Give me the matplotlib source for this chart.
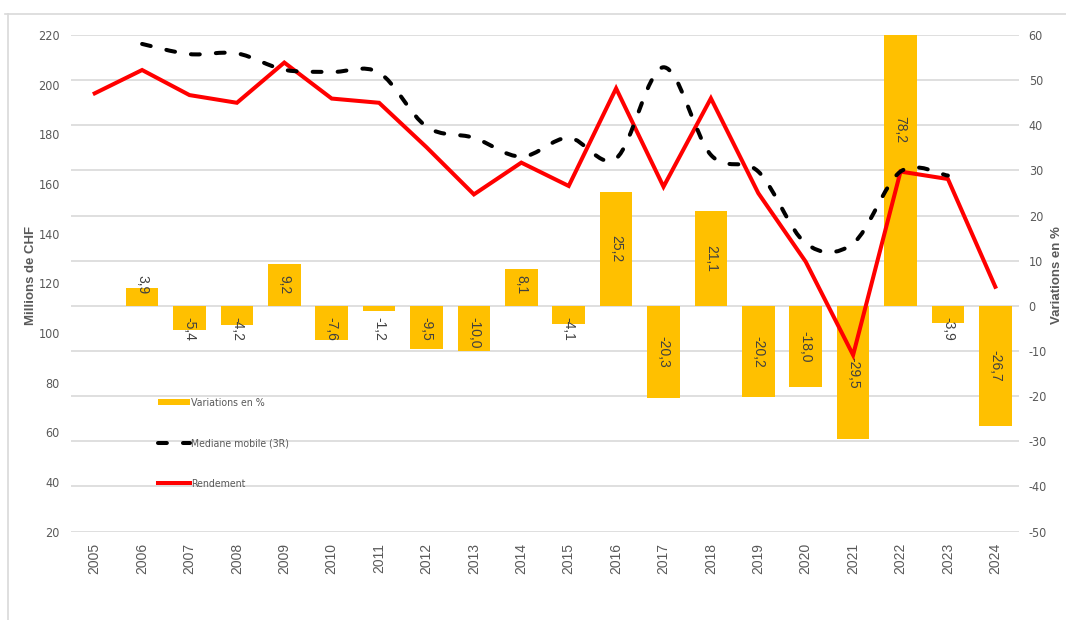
import matplotlib

matplotlib.use("Agg")
import matplotlib.pyplot as plt
from matplotlib import font_manager
from matplotlib.font_manager import FontProperties
from matplotlib.lines import Line2D
from matplotlib.patches import Patch, PathPatch
from matplotlib.path import Path

plt.rcParams["axes.unicode_minus"] = False

years = [str(y) for y in range(2005, 2025)]

# Rendement (Millions de CHF), left axis
rendement = [196.5, 205.9, 195.8, 192.7, 208.9, 194.4, 192.7, 174.8, 155.8, 168.6,
             159.2, 198.5, 158.9, 194.5, 156.3, 128.7, 91.1, 165.0, 162.0, 118.6]

# Mediane mobile (3R), left axis, starts in 2006
mediane = [None, 216.4, 212.3, 212.6, 206.0, 205.1, 204.8, 183.1, 178.6, 171.0,
           178.6, 170.3, 207.0, 171.7, 165.0, 136.1, 136.1, 165.0, 163.4, None]

# Variations en % (right axis), none for 2005
variations = [None, 3.9, -5.4, -4.2, 9.2, -7.6, -1.2, -9.5, -10.0, 8.1,
              -4.1, 25.2, -20.3, 21.1, -20.2, -18.0, -29.5, 78.2, -3.9, -26.7]

GREY = "#595959"
GRID = "#D9D9D9"
REGULAR = ["Liberation Sans", "DejaVu Sans"]


def narrow_font(size):
    # look for a condensed face installed on the machine, else plain Liberation Sans
    prefs = ["LiberationSansNarrow-Regular", "ArialNarrow", "DejaVuSansCondensed.ttf",
             "Condensed-Regular", "Narrow-Regular"]
    files = [f.fname for f in font_manager.fontManager.ttflist]
    for p in prefs:
        for fn in files:
            if p in fn and "Bold" not in fn and "Italic" not in fn and "Oblique" not in fn:
                return FontProperties(fname=fn, size=size)
    return FontProperties(family="Liberation Sans", size=size * 0.92)


def smooth_path(xs, ys):
    """Catmull-Rom style bezier through the points (Excel 'smoothed line')."""
    verts = [(xs[0], ys[0])]
    codes = [Path.MOVETO]
    n = len(xs)
    for i in range(n - 1):
        x0, y0 = (xs[i - 1], ys[i - 1]) if i > 0 else (xs[i], ys[i])
        x1, y1 = xs[i], ys[i]
        x2, y2 = xs[i + 1], ys[i + 1]
        x3, y3 = (xs[i + 2], ys[i + 2]) if i + 2 < n else (x2, y2)
        c1 = (x1 + (x2 - x0) / 6, y1 + (y2 - y0) / 6)
        c2 = (x2 - (x3 - x1) / 6, y2 - (y3 - y1) / 6)
        verts += [c1, c2, (x2, y2)]
        codes += [Path.CURVE4] * 3
    return Path(verts, codes)


fig = plt.figure(figsize=(10.66, 6.2), dpi=100)
ax2 = fig.add_axes([71 / 1066, 88.4 / 620, 948 / 1066, 496.6 / 620])
ax = ax2.twinx()
ax.set_zorder(ax2.get_zorder() + 1)
ax.patch.set_visible(False)

x = list(range(len(years)))

# bars on the right axis, in the back
bx = [i for i, v in zip(x, variations) if v is not None]
bv = [v for v in variations if v is not None]
ax2.bar(bx, bv, width=0.69, color="#FFC000", zorder=2)
ax2.set_ylim(-50, 60)
ax2.set_yticks(range(-50, 61, 10))
ax2.yaxis.tick_right()
ax2.grid(axis="y", color=GRID, lw=1.2, zorder=0)
ax2.set_axisbelow(True)

for xi, v in zip(bx, bv):
    lab = f"{v:.1f}".replace(".", ",")
    if abs(v) < 12:
        yy, va = (2.5, "bottom") if v > 0 else (-2.5, "top")
    else:
        yy, va = v / 2, "center"
    ax2.text(xi, yy, lab, rotation=270, ha="center", va=va,
             fontsize=10, color="#404040", family=REGULAR, zorder=3)

# lines on the left axis, in front
ax.plot(x, rendement, color="#FF0000", lw=2.9, solid_joinstyle="miter", zorder=4)
mx = [i for i, v in zip(x, mediane) if v is not None]
mv = [v for v in mediane if v is not None]
ax.add_patch(PathPatch(smooth_path(mx, mv), fill=False, edgecolor="black", lw=2.9,
                       linestyle=(0, (2.2, 4.0)), capstyle="round", zorder=5))
ax.set_ylim(20, 220)
ax.set_yticks(range(20, 221, 20))
ax.yaxis.tick_left()

ax2.set_xlim(-0.5, len(years) - 0.5)
ax2.set_xticks(x)
ax2.set_xticklabels(years, rotation=90, fontsize=10, color=GREY, family=REGULAR)

for a in (ax, ax2):
    for s in a.spines.values():
        s.set_visible(False)
    a.tick_params(length=0)

ax.tick_params(axis="y", pad=8)
ax2.tick_params(axis="y", pad=7)
ax2.tick_params(axis="x", pad=8)
tick_fp = narrow_font(9)
for t in ax.get_yticklabels() + ax2.get_yticklabels():
    t.set_fontproperties(tick_fp)
    t.set_color(GREY)

fig.text(31 / 1066, 1 - 275 / 620, "Millions de CHF", rotation=90, ha="center",
         va="center", fontsize=9.5, fontweight="bold", color=GREY, family=REGULAR)
fig.text(1057 / 1066, 1 - 275 / 620, "Variations en %", rotation=90, ha="center",
         va="center", fontsize=9.5, fontweight="bold", color=GREY, family=REGULAR)

handles = [
    Patch(facecolor="#FFC000", edgecolor="none"),
    Line2D([0], [0], color="black", lw=2.9, linestyle=(0, (2.2, 4.0)),
           dash_capstyle="round"),
    Line2D([0], [0], color="#FF0000", lw=2.9),
]
labels = ["Variations en %", "Mediane mobile (3R)", "Rendement"]
leg = ax.legend(handles, labels, loc="center left", bbox_to_anchor=(0.092, 0.178),
                frameon=False, borderpad=0, borderaxespad=0, handlelength=3.0,
                handleheight=0.55, handletextpad=0.15, labelspacing=2.9,
                prop=narrow_font(7.6))
for t in leg.get_texts():
    t.set_color(GREY)

# outer chart frame
fig.add_artist(Line2D([5 / 1066, 1.0], [1 - 14 / 620, 1 - 14 / 620],
                      transform=fig.transFigure, color=GRID, lw=1.2))
fig.add_artist(Line2D([8 / 1066, 8 / 1066], [0, 1 - 14 / 620],
                      transform=fig.transFigure, color=GRID, lw=1.2))

fig.savefig("out.png", dpi=100)
